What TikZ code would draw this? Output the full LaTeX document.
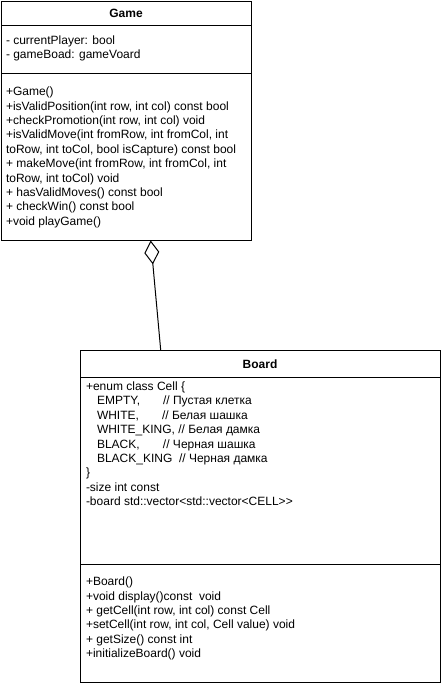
\documentclass[tikz,border=0pt]{standalone}
\usepackage{fontspec}
\setmainfont{Liberation Sans}
\usetikzlibrary{arrows.meta}
\begin{document}
\begin{tikzpicture}[x=1pt,y=-1pt,line width=1pt,
  txt/.style={anchor=base west,inner sep=0pt,font=\fontsize{12pt}{14.4pt}\selectfont},
  ttl/.style={anchor=base,inner sep=0pt,font=\fontsize{12pt}{14.4pt}\selectfont\bfseries},
  umlbox/.style={draw,anchor=north west,inner sep=0pt,fill=white},
  sep/.style={line width=1pt}]
\useasboundingbox (0,0) rectangle (441,684);
% Game class
\node[umlbox,minimum width=250pt,minimum height=239pt] (game) at (1,1) {};
\draw[sep] (1,26) -- (251,26);
\draw[sep] (1,74) -- (251,74);
\node[ttl] (gtitle) at (126,17.7) {Game};
\foreach \t [count=\i] in {{- currentPlayer: bool},{- gameBoad: gameVoard}}
  \node[txt] (ga\i) at (5.5,{44.5+14.4*(\i-1)}) {\t};
\foreach \t [count=\i] in {{+Game()},
  {+isValidPosition(int row, int col) const bool},
  {+checkPromotion(int row, int col) void},
  {+isValidMove(int fromRow, int fromCol, int},
  {toRow, int toCol, bool isCapture) const bool},
  {+ makeMove(int fromRow, int fromCol, int},
  {toRow, int toCol) void},
  {+ hasValidMoves() const bool},
  {+ checkWin() const bool},
  {+void playGame()}}
  \node[txt] (gm\i) at (5.5,{95.7+14.4*(\i-1)}) {\t};
% Board class
\node[umlbox,minimum width=360pt,minimum height=332pt] (board) at (80,350) {};
\draw[sep] (80,377.3) -- (440,377.3);
\draw[sep] (80,564.5) -- (440,564.5);
\node[ttl] (btitle) at (260,368.3) {Board};
\foreach \t [count=\i] in {{+enum class Cell \{},
  {\hspace*{11pt}\makebox[66pt][l]{EMPTY,}// Пустая клетка},
  {\hspace*{11pt}\makebox[65pt][l]{WHITE,}// Белая шашка},
  {\hspace*{11pt}WHITE\_KING, // Белая дамка},
  {\hspace*{11pt}\makebox[66pt][l]{BLACK,}// Черная шашка},
  {\hspace*{11pt}BLACK\_KING\ \ // Черная дамка},
  {\}},
  {-size int const},
  {-board std::vector<std::vector<CELL>{}>}}
  \node[txt] (ba\i) at (85.5,{390.5+14.4*(\i-1)}) {\t};
\foreach \t [count=\i] in {{+Board()},
  {+void display()const\ \ void},
  {+ getCell(int row, int col) const Cell},
  {+setCell(int row, int col, Cell value) void},
  {+ getSize() const int},
  {+initializeBoard() void}}
  \node[txt] (bm\i) at (85.5,{585.7+14.4*(\i-1)}) {\t};
% aggregation
\coordinate (gtip) at (150.7,240.5);
\coordinate (btop) at (160.7,350);
\draw[{Diamond[open,length=24pt,width=15pt]}-] (gtip) -- (btop);
\end{tikzpicture}
\end{document}
